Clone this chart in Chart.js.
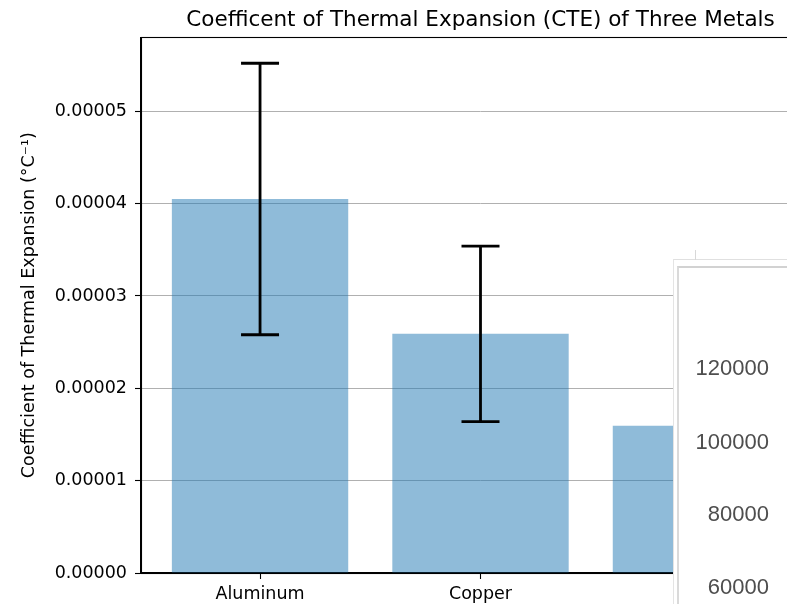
<!DOCTYPE html>
<html><head><meta charset="utf-8">
<script src="https://cdn.jsdelivr.net/npm/chart.js@4.4.1/dist/chart.umd.min.js"></script>
<style>
html,body{margin:0;padding:0;background:#fff;overflow:hidden;width:787px;height:604px;}
#wrap{position:relative;width:840px;height:604px;}
#c{position:absolute;left:0;top:0;}
.ov1{position:absolute;left:673px;top:259px;width:200px;height:400px;border-top:1px solid #e0e0e0;border-left:1px solid #e4e4e4;background:#fff;}
.ov2{position:absolute;left:677px;top:266px;width:200px;height:400px;border-top:2px solid #d2d2d2;border-left:2px solid #dadada;background:#fff;}
.ovtick{position:absolute;left:695px;top:250px;width:1px;height:10px;background:#d8d8d8;}
.ovt{position:absolute;left:0;width:769px;text-align:right;font-family:"Liberation Sans",Arial,sans-serif;font-size:22px;line-height:26px;color:#4e4e4e;filter:blur(0.3px);}
</style>
</head><body>
<div id="wrap">
<canvas id="c" width="840" height="604"></canvas>
<div class="ov1"></div><div class="ov2"></div><div class="ovtick"></div>
<div id="ovl"></div>
</div>
<script>
const categories = ['Aluminum', 'Copper', 'Steel'];
const cteValues = [4.05e-5, 2.59e-5, 1.595e-5];
const cteErrors = [1.47e-5, 0.95e-5, 0.3e-5];
const yTicks = [0, 1e-5, 2e-5, 3e-5, 4e-5, 5e-5];
const overlayLabels = ['120000', '100000', '80000', '60000'];
const overlayCenters = [368, 442, 514, 587];

const ovl = document.getElementById('ovl');
overlayLabels.forEach((t, i) => {
  const d = document.createElement('div');
  d.className = 'ovt';
  d.style.top = (overlayCenters[i] - 13) + 'px';
  d.textContent = t;
  ovl.appendChild(d);
});

const FONT = 'DejaVu Sans';

const errorBarPlugin = {
  id: 'errorBars',
  afterDraw(chart) {
    const ctx = chart.ctx, xs = chart.scales.x, ys = chart.scales.y;
    ctx.save();
    ctx.strokeStyle = '#000';
    ctx.lineWidth = 2.8;
    ctx.lineCap = 'butt';
    cteValues.forEach((v, i) => {
      const x = xs.getPixelForValue(i);
      const yt = ys.getPixelForValue(v + cteErrors[i]);
      const yb = ys.getPixelForValue(v - cteErrors[i]);
      ctx.beginPath();
      ctx.moveTo(x, yt); ctx.lineTo(x, yb);
      ctx.moveTo(x - 19, yt); ctx.lineTo(x + 19, yt);
      ctx.moveTo(x - 19, yb); ctx.lineTo(x + 19, yb);
      ctx.stroke();
    });
    ctx.restore();
  }
};

const spinePlugin = {
  id: 'spines',
  afterDraw(chart) {
    const {left, top, right, bottom} = chart.chartArea;
    const ctx = chart.ctx;
    ctx.save();
    ctx.strokeStyle = '#000';
    ctx.lineWidth = 1.1;
    ctx.strokeRect(Math.round(left) + 0.5, Math.round(top) + 0.5, Math.round(right - left), Math.round(bottom - top));
    ctx.restore();
  }
};

new Chart(document.getElementById('c'), {
  type: 'bar',
  data: {
    datasets: [{
      data: categories.map((c, i) => ({x: i, y: cteValues[i]})),
      backgroundColor: 'rgba(31,119,180,0.5)',
      borderWidth: 0,
      barPercentage: 0.8,
      categoryPercentage: 1
    }]
  },
  options: {
    responsive: false,
    animation: false,
    devicePixelRatio: 1,
    layout: {padding: {left: 0, right: 20, top: 0, bottom: 0}},
    plugins: {
      legend: {display: false},
      tooltip: {enabled: false},
      title: {
        display: true,
        fullSize: false,
        text: 'Coefficent of Thermal Expansion (CTE) of Three Metals',
        color: '#000',
        font: {family: FONT, size: 21.5, weight: 'normal'},
        padding: {top: 8, bottom: 3.6}
      }
    },
    scales: {
      x: {
        type: 'linear',
        min: -0.54,
        max: 2.54,
        offset: false,
        afterBuildTicks: s => { s.ticks = categories.map((c, i) => ({value: i})); },
        afterFit: s => { s.height = 31; },
        ticks: {
          callback: v => categories[v],
          autoSkip: false,
          maxRotation: 0,
          color: '#000',
          font: {family: FONT, size: 17.5},
          padding: 5
        },
        grid: {display: true, offset: false, drawOnChartArea: false, tickLength: 6, tickColor: '#000', tickWidth: 1.1},
        border: {color: '#000', width: 1.1}
      },
      y: {
        z: 1,
        min: 0,
        max: 5.8e-5,
        afterBuildTicks: s => { s.ticks = yTicks.map(v => ({value: v})); },
        afterFit: s => { s.width = 141; },
        ticks: {
          callback: v => v.toFixed(5),
          color: '#000',
          font: {family: FONT, size: 17.5},
          padding: 8
        },
        grid: {color: '#b0b0b0', lineWidth: 1, tickColor: '#000', tickLength: 6, tickWidth: 1.1},
        border: {color: '#000', width: 1.1},
        title: {
          display: true,
          text: 'Coefficient of Thermal Expansion (°C⁻¹)',
          color: '#000',
          font: {family: FONT, size: 17.5},
          padding: {top: 19, bottom: 0}
        }
      }
    }
  },
  plugins: [errorBarPlugin, spinePlugin]
});
</script>
</body></html>
